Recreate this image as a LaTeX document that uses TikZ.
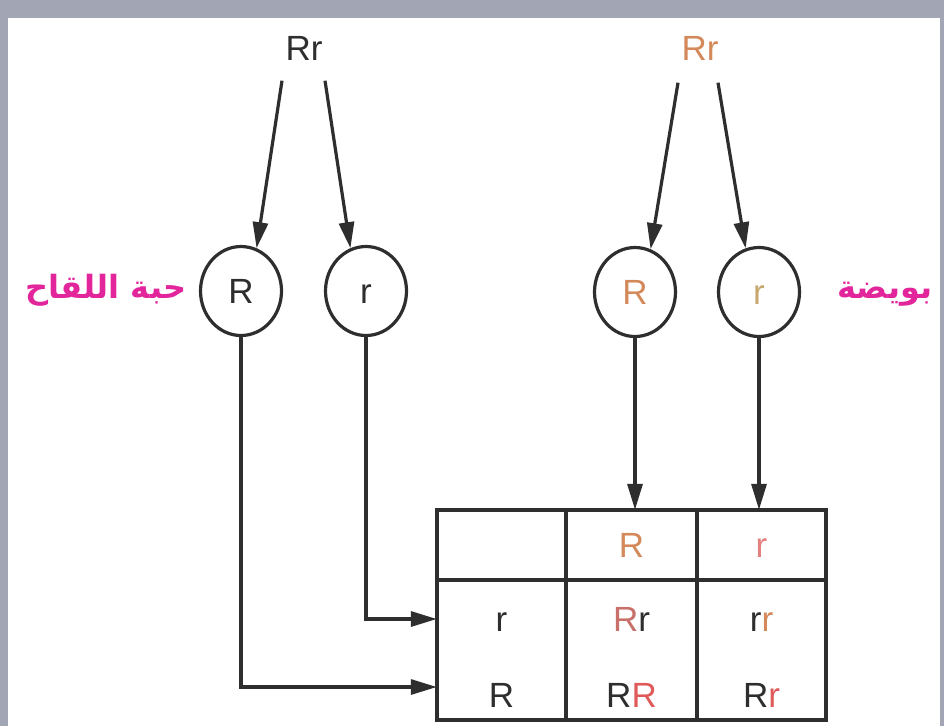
\documentclass[tikz,border=0pt]{standalone}
\usepackage{fontspec}
\setmainfont{Liberation Sans}
\newfontfamily\arabicfont[Script=Arabic]{DejaVu Sans}
\TeXXeTstate=1
\usetikzlibrary{arrows.meta,shapes.geometric}
\definecolor{framegrey}{HTML}{A2A5B3}
\definecolor{ink}{HTML}{2E2E2E}
\definecolor{orR}{HTML}{D4895A}
\definecolor{beigeR}{HTML}{C9A870}
\definecolor{pinkR}{HTML}{E48080}
\definecolor{salmonR}{HTML}{C8706A}
\definecolor{redR}{HTML}{E05A5A}
\definecolor{magentaL}{HTML}{E2259B}
\begin{document}
\begin{tikzpicture}[x=1pt,y=-1pt,
  txt/.style={text=ink,font=\fontsize{35}{40}\selectfont,text height=25pt,text depth=0pt,inner sep=2pt},
  gam/.style={txt,draw=ink,line width=3.2pt,ellipse,minimum width=81pt,minimum height=89pt,inner sep=0pt},
  cell/.style={txt,minimum width=129pt,minimum height=70pt,inner sep=0pt},
  lab/.style={text=magentaL,font=\arabicfont\bfseries\fontsize{32}{36}\selectfont,inner sep=0pt},
  arr/.style={draw=ink,line width=3.2pt,-{Triangle[length=26pt,width=15pt]}},
  tbl/.style={draw=ink,line width=3.2pt}]
\fill[framegrey] (0,0) rectangle (944,726);
\fill[white] (8,18) rectangle (940,726);
\useasboundingbox (0,0) rectangle (944,726);

% parents
\node[txt] (RrL) at (304,48) {Rr};
\node[txt] (RrR) at (700,48) {\textcolor{orR}{Rr}};

% gametes
\node[gam] (pR) at (241,291) {R};
\node[gam] (pr) at (366,291) {r};
\node[gam] (oR) at (635,292) {\textcolor{orR}{R}};
\node[gam] (or) at (759,292) {\textcolor{beigeR}{r}};

% labels
\node[lab] (pollen) at (106,290) {\beginR حبة اللقاح\endR};
\node[lab] (egg) at (885,294) {\beginR بويضة\endR};

% table cells
\node[cell] (hR) at (631.5,545) {\textcolor{orR}{R}};
\node[cell] (hr) at (761.5,545) {\textcolor{pinkR}{r}};
\node[cell] (lr) at (501.5,619) {r};
\node[cell] (c11) at (631.5,619) {\textcolor{salmonR}{R}r};
\node[cell] (c12) at (761.5,619) {r\textcolor{orR}{r}};
\node[cell] (lR) at (501.5,695) {R};
\node[cell] (c21) at (631.5,695) {R\textcolor{redR}{R}};
\node[cell] (c22) at (761.5,695) {R\textcolor{redR}{r}};

% table grid
\draw[tbl] (437,510) rectangle (826,720);
\draw[tbl] (437,580) -- (826,580);
\draw[tbl] (566,510) -- (566,720);
\draw[tbl] (697,510) -- (697,720);

% arrows from parents to gametes
\draw[arr] ([xshift=-22pt,yshift=-18pt]RrL.south) -- (pR.70);
\draw[arr] ([xshift=21pt,yshift=-18pt]RrL.south) -- (pr.110);
\draw[arr] ([xshift=-22pt,yshift=-20pt]RrR.south) -- (oR.70);
\draw[arr] ([xshift=18pt,yshift=-20pt]RrR.south) -- (or.107);

% arrows from gametes to table
\draw[arr] (pR.south) |- ([yshift=8pt]lR.west);
\draw[arr] (pr.south) |- (lr.west);
\draw[arr] (oR.south) -- (oR.south |- hR.north);
\draw[arr] (or.south) -- (or.south |- hr.north);
\end{tikzpicture}
\end{document}
